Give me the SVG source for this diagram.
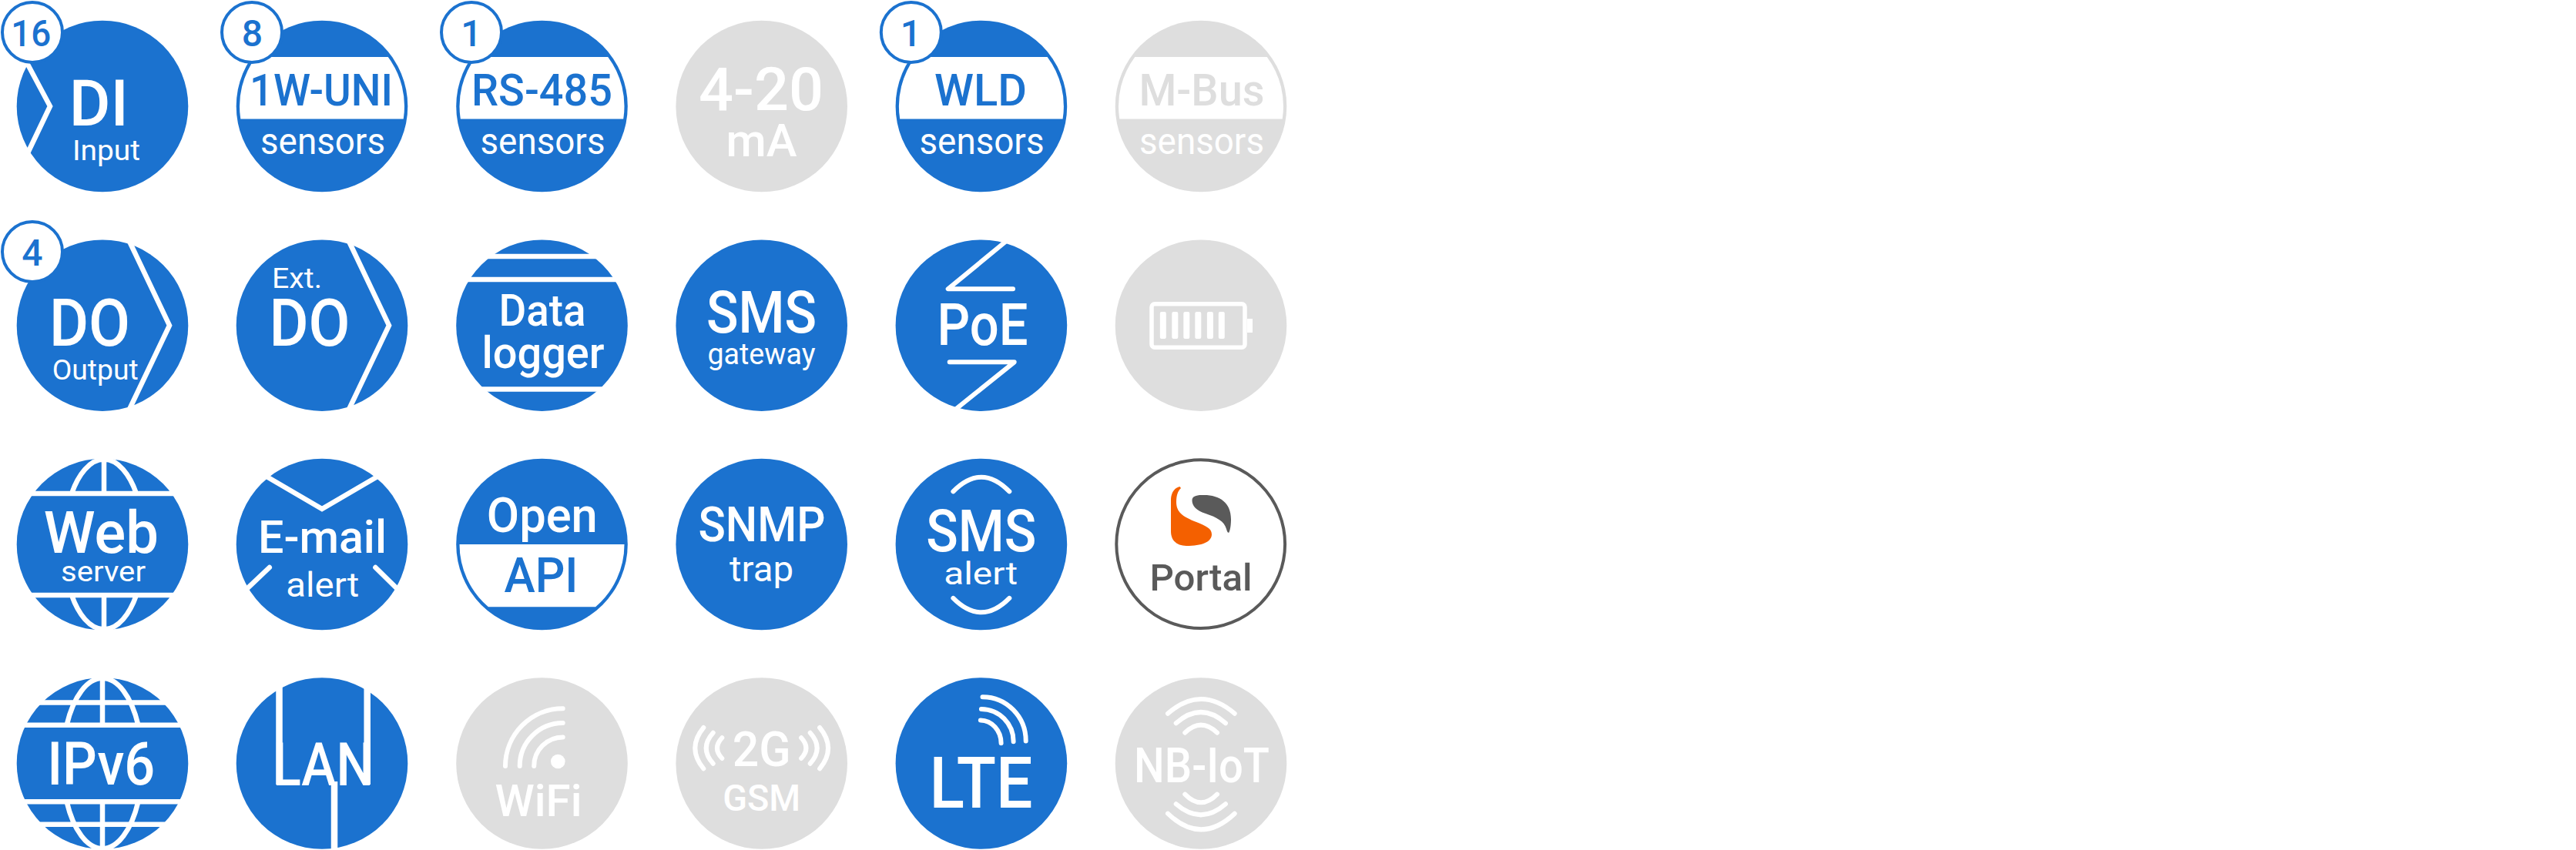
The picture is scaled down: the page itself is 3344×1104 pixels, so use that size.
<svg xmlns="http://www.w3.org/2000/svg" xmlns:xlink="http://www.w3.org/1999/xlink" width="3344" height="1104" viewBox="0 0 3344 1104">
<style>
text{font-family:Roboto,"Liberation Sans",sans-serif;text-anchor:middle;font-weight:500}
.l{font-weight:400}
.w{fill:#fff}.b{fill:#1b72cf}.g{fill:#dedede}.d{fill:#5a5a5a}
.cb{fill:#1b72cf}.cg{fill:#dedede}
.ring{fill:#fff;stroke:#1b72cf;stroke-width:4}
.s{fill:none;stroke:#fff;stroke-width:6.5;stroke-linejoin:miter}
.r{fill:none;stroke:#fff;stroke-width:6;stroke-linecap:round;stroke-linejoin:round}
.fw{fill:#fff}
</style>
<defs>
<circle id="c" r="111.3"/>
<path id="band" d="M-85.7,-64H85.7A107,107 0 0 1 105.7,16.6H-105.7A107,107 0 0 1 -85.7,-64Z"/>
<path id="band2" d="M-107,0H107A107,107 0 0 1 69.6,81.3H-69.6A107,107 0 0 1 -107,0Z"/>
</defs>
<rect width="3344" height="1104" fill="#fff"/>

<g id="di">
<use href="#c" x="133" y="138" class="cb"/>
<path class="s" d="M33,78L65,138L33,205"/>
<circle class="ring" cx="42" cy="42" r="39"/>
<text class="b" x="40.3" y="60" font-size="48" textLength="52" lengthAdjust="spacingAndGlyphs">16</text>
<text class="w" x="128.2" y="163" font-size="84" textLength="77" lengthAdjust="spacingAndGlyphs">DI</text>
<text class="w l" x="138" y="208" font-size="37" textLength="88" lengthAdjust="spacingAndGlyphs">Input</text>
</g>
<g id="oneW">
<use href="#c" x="418" y="138" class="cb"/>
<use href="#band" x="418" y="138" class="fw"/>
<circle class="ring" cx="327" cy="42" r="39"/>
<text class="b" x="327.5" y="60" font-size="48">8</text>
<text class="b" x="417" y="137" font-size="58" textLength="186" lengthAdjust="spacingAndGlyphs">1W-UNI</text>
<text class="w l" x="419" y="200" font-size="48" textLength="162" lengthAdjust="spacingAndGlyphs">sensors</text>
</g>
<g id="rs485">
<use href="#c" x="703.5" y="138" class="cb"/>
<use href="#band" x="703.5" y="138" class="fw"/>
<circle class="ring" cx="612" cy="42" r="39"/>
<text class="b" x="612" y="60" font-size="48">1</text>
<text class="b" x="703.5" y="137" font-size="58" textLength="183" lengthAdjust="spacingAndGlyphs">RS-485</text>
<text class="w l" x="704.5" y="200" font-size="48" textLength="162" lengthAdjust="spacingAndGlyphs">sensors</text>
</g>
<g id="ma420">
<use href="#c" x="988.7" y="138" class="cg"/>
<text class="w" x="988" y="143" font-size="78" textLength="162" lengthAdjust="spacingAndGlyphs">4-20</text>
<text class="w" x="988.6" y="202.5" font-size="60" textLength="92" lengthAdjust="spacingAndGlyphs">mA</text>
</g>
<g id="wld">
<use href="#c" x="1273.9" y="138" class="cb"/>
<use href="#band" x="1273.9" y="138" class="fw"/>
<circle class="ring" cx="1182.8" cy="42" r="39"/>
<text class="b" x="1182.5" y="60" font-size="48">1</text>
<text class="b" x="1273" y="137" font-size="58" textLength="120" lengthAdjust="spacingAndGlyphs">WLD</text>
<text class="w l" x="1274.5" y="200" font-size="48" textLength="162" lengthAdjust="spacingAndGlyphs">sensors</text>
</g>
<g id="mbus">
<use href="#c" x="1559" y="138" class="cg"/>
<use href="#band" x="1559" y="138" class="fw"/>
<text class="g" x="1560" y="137" font-size="58" textLength="163" lengthAdjust="spacingAndGlyphs">M-Bus</text>
<text class="w l" x="1560" y="200" font-size="48" textLength="162" lengthAdjust="spacingAndGlyphs">sensors</text>
</g>

<g id="do">
<use href="#c" x="133" y="422.7" class="cb"/>
<path class="s" d="M163,303L220,422.7L163,542"/>
<circle class="ring" cx="42" cy="327" r="39"/>
<text class="b" x="42" y="344.6" font-size="48">4</text>
<text class="w" x="116.5" y="449" font-size="85" textLength="105" lengthAdjust="spacingAndGlyphs">DO</text>
<text class="w l" x="123.7" y="492.5" font-size="37" textLength="112" lengthAdjust="spacingAndGlyphs">Output</text>
</g>
<g id="extdo">
<use href="#c" x="418" y="422.7" class="cb"/>
<path class="s" d="M448,303L505,422.7L448,542"/>
<text class="w l" x="385.5" y="374" font-size="37" textLength="65" lengthAdjust="spacingAndGlyphs">Ext.</text>
<text class="w" x="402" y="449" font-size="85" textLength="105" lengthAdjust="spacingAndGlyphs">DO</text>
</g>
<g id="logger">
<use href="#c" x="703.5" y="422.7" class="cb"/>
<path class="s" d="M580,333H830M580,363H830M580,505.5H830"/>
<text class="w" x="704" y="423" font-size="58" textLength="113" lengthAdjust="spacingAndGlyphs">Data</text>
<text class="w" x="705" y="477.5" font-size="58" textLength="159" lengthAdjust="spacingAndGlyphs">logger</text>
</g>
<g id="smsgw">
<use href="#c" x="988.7" y="422.7" class="cb"/>
<text class="w" x="988.5" y="432" font-size="76" textLength="143" lengthAdjust="spacingAndGlyphs">SMS</text>
<text class="w l" x="988.5" y="473" font-size="38" textLength="140" lengthAdjust="spacingAndGlyphs">gateway</text>
</g>
<g id="poe">
<use href="#c" x="1273.9" y="422.7" class="cb"/>
<path class="r" d="M1310,310L1230.7,375.3H1315"/>
<path class="r" d="M1232.7,470.3H1316.7L1235,536"/>
<text class="w" x="1275.5" y="448" font-size="76" textLength="118" lengthAdjust="spacingAndGlyphs">PoE</text>
</g>
<g id="battery">
<use href="#c" x="1559" y="422.7" class="cg"/>
<rect x="1495" y="394.7" width="121" height="56.5" rx="4" fill="none" stroke="#fff" stroke-width="5.5"/>
<rect x="1619" y="414" width="7" height="18" class="fw"/>
<g class="fw">
<rect x="1505.8" y="405" width="8" height="35" rx="2"/>
<rect x="1521.3" y="405" width="8" height="35" rx="2"/>
<rect x="1536.3" y="405" width="8" height="35" rx="2"/>
<rect x="1551.3" y="405" width="8" height="35" rx="2"/>
<rect x="1566.9" y="405" width="8" height="35" rx="2"/>
<rect x="1581.8" y="405" width="8" height="35" rx="2"/>
</g>
</g>

<g id="web">
<use href="#c" x="133" y="707" class="cb"/>
<path class="s" d="M10,641H256M10,773H256M135,590V641M135,773V825M93,641A52.5,111 0 0 1 177,641M93,773A52.5,111 0 0 0 177,773"/>
<text class="w" x="131.3" y="718" font-size="76" textLength="149" lengthAdjust="spacingAndGlyphs">Web</text>
<text class="w l" x="134" y="755" font-size="36" textLength="110" lengthAdjust="spacingAndGlyphs">server</text>
</g>
<g id="email">
<use href="#c" x="418" y="707" class="cb"/>
<path class="s" d="M335,612.5L418,661L501,612.5"/>
<path class="r" style="stroke-width:6.5" d="M349.8,737L315,770M487.4,737L521,770"/>
<text class="w" x="418.5" y="718" font-size="60" textLength="167" lengthAdjust="spacingAndGlyphs">E-mail</text>
<text class="w l" x="418.8" y="774.5" font-size="44" textLength="95" lengthAdjust="spacingAndGlyphs">alert</text>
</g>
<g id="api">
<use href="#c" x="703.5" y="707" class="cb"/>
<use href="#band2" x="703.5" y="707" class="fw"/>
<text class="w" x="703.8" y="691" font-size="63" textLength="144" lengthAdjust="spacingAndGlyphs">Open</text>
<text class="b" x="702.5" y="769" font-size="63" textLength="96" lengthAdjust="spacingAndGlyphs">API</text>
</g>
<g id="snmp">
<use href="#c" x="988.7" y="707" class="cb"/>
<text class="w" x="989" y="703" font-size="63" textLength="165" lengthAdjust="spacingAndGlyphs">SNMP</text>
<text class="w l" x="988.6" y="755" font-size="47" textLength="83" lengthAdjust="spacingAndGlyphs">trap</text>
</g>
<g id="smsalert">
<use href="#c" x="1273.9" y="707" class="cb"/>
<path class="r" d="M1237.4,638.4Q1273.9,601 1310.3,638.4"/>
<path class="r" d="M1237.4,776.9Q1273.9,813.7 1310.3,776.9"/>
<text class="w" x="1273.7" y="716" font-size="76" textLength="143" lengthAdjust="spacingAndGlyphs">SMS</text>
<text class="w l" x="1273.2" y="758.5" font-size="40" textLength="96" lengthAdjust="spacingAndGlyphs">alert</text>
</g>
<g id="portal">
<circle cx="1558.7" cy="706.7" r="109.4" fill="#fff" stroke="#5a5a5a" stroke-width="4"/>
<path fill="#f46000" d="M1531.5,632C1524,634 1520,640 1520,650L1520,690C1520,704 1530,709 1540,709C1560,709 1573,704 1573,694C1573,686 1565,683 1553,678C1535,671 1527,665 1527,652C1527,643 1529,638 1533,634Z"/>
<path fill="#5a5a5a" d="M1547.5,650C1547.5,645 1552,643 1560,643C1582,642 1598,652 1598,674C1598,682 1597,688 1595.5,691.5C1594,692.5 1593,691 1592,687C1589,677 1580,672 1565,667C1553,663 1547.5,657 1547.5,650Z"/>
<text class="d" x="1559" y="766.7" font-size="49" textLength="133" lengthAdjust="spacingAndGlyphs">Portal</text>
</g>

<g id="ipv6">
<use href="#c" x="133" y="991.5" class="cb"/>
<path class="s" d="M10,912.5H256M10,941.7H256M10,1041.3H256M10,1070.7H256M133,875V941.7M133,1041.3V1110M86.6,941.7A52,111 0 0 1 179.4,941.7M86.6,1041.3A52,111 0 0 0 179.4,1041.3"/>
<text class="w" x="131.2" y="1019" font-size="77" textLength="140" lengthAdjust="spacingAndGlyphs">IPv6</text>
</g>
<g id="lan">
<use href="#c" x="418" y="991.5" class="cb"/>
<path class="s" style="stroke-width:8.5" d="M362.5,870V1019M476.7,870V1019M434,1015V1110"/>
<text class="w" x="419.4" y="1019.5" font-size="78" textLength="131" lengthAdjust="spacingAndGlyphs">LAN</text>
</g>
<g id="wifi">
<use href="#c" x="703.5" y="991.5" class="cg"/>
<circle cx="724.3" cy="989" r="9.3" class="fw"/>
<path class="r" d="M656,995A74.7,74.7 0 0 1 730.7,920.3M674.7,995A56,56 0 0 1 730.7,939M693.2,995A37.5,37.5 0 0 1 730.7,957.5"/>
<text class="w" x="699" y="1060" font-size="58" textLength="113" lengthAdjust="spacingAndGlyphs">WiFi</text>
</g>
<g id="gsm">
<use href="#c" x="988.7" y="991.5" class="cg"/>
<path class="r" d="M913.3,945Q891.3,971.7 913.3,998.3M925.7,951.7Q907.7,971.7 925.7,991.7M937.3,958.3Q924.7,971.7 937.3,985M1064.1,945Q1086.1,971.7 1064.1,998.3M1051.7,951.7Q1069.7,971.7 1051.7,991.7M1040.1,958.3Q1052.7,971.7 1040.1,985"/>
<text class="w" x="988.7" y="995" font-size="63" textLength="76" lengthAdjust="spacingAndGlyphs">2G</text>
<text class="w" x="988.7" y="1053" font-size="49" textLength="101" lengthAdjust="spacingAndGlyphs">GSM</text>
</g>
<g id="lte">
<use href="#c" x="1273.9" y="991.5" class="cb"/>
<path class="r" d="M1275.5,905.2A56,57 0 0 1 1331.7,962.5M1273.9,920.9A42,42 0 0 1 1315.6,963.2M1272.8,935.4A27,30 0 0 1 1299.6,965.3"/>
<text class="w" x="1273.5" y="1048.5" font-size="92" textLength="134" lengthAdjust="spacingAndGlyphs">LTE</text>
</g>
<g id="nbiot">
<use href="#c" x="1559" y="991.5" class="cg"/>
<path class="r" d="M1516,926.7Q1559,889.3 1602.7,926.7M1526.7,939.3Q1559,910.7 1591,939.3M1538.3,951.7Q1559,931.7 1580,951.7M1538.3,1031.7Q1559,1053 1580,1031.7M1526.7,1044.3Q1559,1072.3 1591,1044.3M1516,1056.7Q1559,1098 1602.7,1056.7"/>
<text class="w" x="1560" y="1015.5" font-size="63" textLength="176" lengthAdjust="spacingAndGlyphs">NB-IoT</text>
</g>
</svg>
